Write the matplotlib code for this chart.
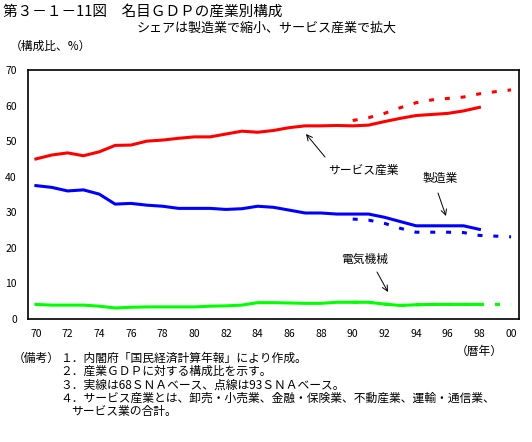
import matplotlib
matplotlib.use("Agg")
import matplotlib.pyplot as plt

plt.rcParams['font.family'] = ['Noto Sans CJK JP', 'DejaVu Sans']
plt.rcParams['lines.scale_dashes'] = False

years_68 = list(range(1970, 1999))
years_93 = list(range(1990, 2001))

service_68 = [45.0, 46.1, 46.7, 45.9, 47.0, 48.8, 48.9, 50.0, 50.3, 50.8,
              51.2, 51.2, 52.0, 52.8, 52.5, 53.0, 53.8, 54.3, 54.3, 54.4,
              54.3, 54.5, 55.5, 56.4, 57.2, 57.5, 57.8, 58.5, 59.5]
service_93 = [55.8, 56.6, 57.8, 59.4, 60.8, 61.6, 62.0, 62.4, 63.3, 63.9, 64.4]

manuf_68 = [37.5, 37.0, 36.0, 36.3, 35.1, 32.3, 32.5, 32.0, 31.7, 31.1,
            31.1, 31.1, 30.8, 31.0, 31.7, 31.4, 30.6, 29.8, 29.8, 29.5,
            29.5, 29.5, 28.6, 27.4, 26.2, 26.2, 26.2, 26.2, 25.2]
manuf_93 = [28.1, 27.8, 26.9, 25.5, 24.4, 24.4, 24.4, 24.3, 23.5, 23.3, 23.1]

elec_68 = [4.1, 3.9, 3.9, 3.9, 3.6, 3.1, 3.3, 3.4, 3.4, 3.4,
           3.4, 3.6, 3.7, 3.9, 4.6, 4.6, 4.5, 4.4, 4.4, 4.7,
           4.7, 4.7, 4.2, 3.8, 4.0, 4.1, 4.1, 4.1, 4.1]
elec_93 = [4.7, 4.7, 4.2, 3.8, 4.0, 4.1, 4.1, 4.1, 4.1, 4.1, 4.1]

xticks = list(range(1970, 2001, 2))
xticklabels = [f"{y % 100:02d}" for y in xticks]
yticks = list(range(0, 71, 10))

fig = plt.figure(figsize=(5.32, 4.42), dpi=100)
ax = fig.add_axes([28/532, 1-319/442, (519-28)/532, (319-70)/442])

lw = 2.2
dash = (0, (3.6, 7.8))
ax.plot(years_68, service_68, color='#FF0000', lw=lw)
ax.plot(years_93, service_93, color='#FF0000', lw=lw, linestyle=dash)
ax.plot(years_68, manuf_68, color='#0000FF', lw=lw)
ax.plot(years_93, manuf_93, color='#0000FF', lw=lw, linestyle=dash)
ax.plot(years_68, elec_68, color='#00FF00', lw=lw)
ax.plot(years_93, elec_93, color='#00FF00', lw=lw, linestyle=dash)

ax.set_xlim(1969.5, 2000.5)
ax.set_ylim(0, 70)
ax.set_xticks(xticks)
ax.set_xticklabels(xticklabels, fontsize=7.5)
ax.set_yticks(yticks)
ax.set_yticklabels([str(v) for v in yticks], fontsize=7.5)
ax.tick_params(length=0, pad=7)
ax.tick_params(axis='y', pad=8)
for s in ax.spines.values():
    s.set_linewidth(1.2)
    s.set_color('black')

arrow = dict(arrowstyle='->', color='black', lw=0.7, shrinkA=0, shrinkB=0)
def px(x, y):
    return (x/532, 1 - y/442)
ax.annotate('', xy=px(306, 134), xytext=px(325, 157), xycoords='figure fraction',
            textcoords='figure fraction', arrowprops=arrow)
ax.annotate('', xy=px(446, 216), xytext=px(438, 193), xycoords='figure fraction',
            textcoords='figure fraction', arrowprops=arrow)
ax.annotate('', xy=px(388, 292), xytext=px(377, 272), xycoords='figure fraction',
            textcoords='figure fraction', arrowprops=arrow)

fig.text(*px(363, 170), 'サービス産業', fontsize=8.5, ha='center', va='center')
fig.text(*px(440, 178), '製造業', fontsize=8.5, ha='center', va='center')
fig.text(*px(365, 259), '電気機械', fontsize=8.5, ha='center', va='center')

fig.text(*px(3, 12), '第３－１－11図　名目ＧＤＰの産業別構成', fontsize=10.5, ha='left', va='center')
fig.text(*px(397, 28), 'シェアは製造業で縮小、サービス産業で拡大', fontsize=9.4, ha='right', va='center')
fig.text(*px(10, 46), '（構成比、%）', fontsize=8.5, ha='left', va='center')
fig.text(*px(503, 351), '（暦年）', fontsize=8.5, ha='right', va='center')

fs = 8.5
fig.text(*px(13, 358), '（備考）', fontsize=fs, ha='left', va='center')
fig.text(*px(60, 358), '１．内閣府「国民経済計算年報」により作成。', fontsize=fs, ha='left', va='center')
fig.text(*px(60, 371.5), '２．産業ＧＤＰに対する構成比を示す。', fontsize=fs, ha='left', va='center')
fig.text(*px(60, 385), '３．実線は68ＳＮＡベース、点線は93ＳＮＡベース。', fontsize=fs, ha='left', va='center')
fig.text(*px(60, 398.3), '４．サービス産業とは、卸売・小売業、金融・保険業、不動産業、運輸・通信業、', fontsize=fs, ha='left', va='center')
fig.text(*px(71, 411), 'サービス業の合計。', fontsize=fs, ha='left', va='center')

fig.savefig('out.png', dpi=100)
